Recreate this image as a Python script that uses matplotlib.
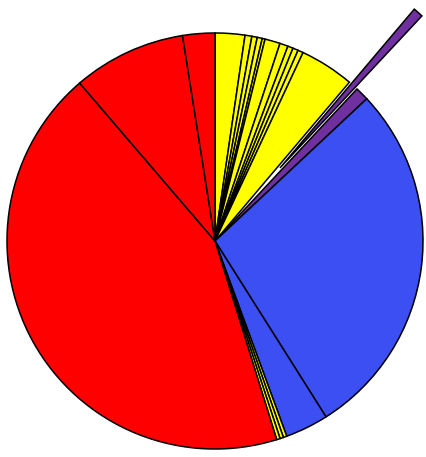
import matplotlib
matplotlib.use("Agg")
from matplotlib import pyplot as plt

# slice shares in percent, clockwise from 12 o'clock
yellow_a = [2.31, 0.53, 0.42, 0.39, 0.22, 1.19, 0.64, 0.42, 0.42, 0.42, 4.22]
purple = [0.78, 1.06]
blue = [28.03, 3.36]
yellow_b = [0.27, 0.27, 0.27]
red = [43.53, 8.78, 2.50]

values = yellow_a + purple + blue + yellow_b + red
colors = (["#ffff00"] * len(yellow_a) + ["#7030a0"] * len(purple)
          + ["#3b4ff2"] * len(blue) + ["#ffff00"] * len(yellow_b)
          + ["#ff0000"] * len(red))
explode = [0.0] * len(values)
explode[len(yellow_a)] = 0.47

fig = plt.figure(figsize=(4.26, 4.57), dpi=100)
ax = fig.add_axes([0, 0, 1, 1])
ax.pie(values, colors=colors, explode=explode, startangle=90,
       counterclock=False, radius=1.0,
       wedgeprops=dict(edgecolor="black", linewidth=1.1))

# center at (215, 241) px, radius 208 px
s = 208.0
ax.set_aspect("auto")
ax.set_xlim(-215 / s, (426 - 215) / s)
ax.set_ylim(-(457 - 241) / s, 241 / s)
ax.axis("off")

fig.savefig("out.png", dpi=100)
